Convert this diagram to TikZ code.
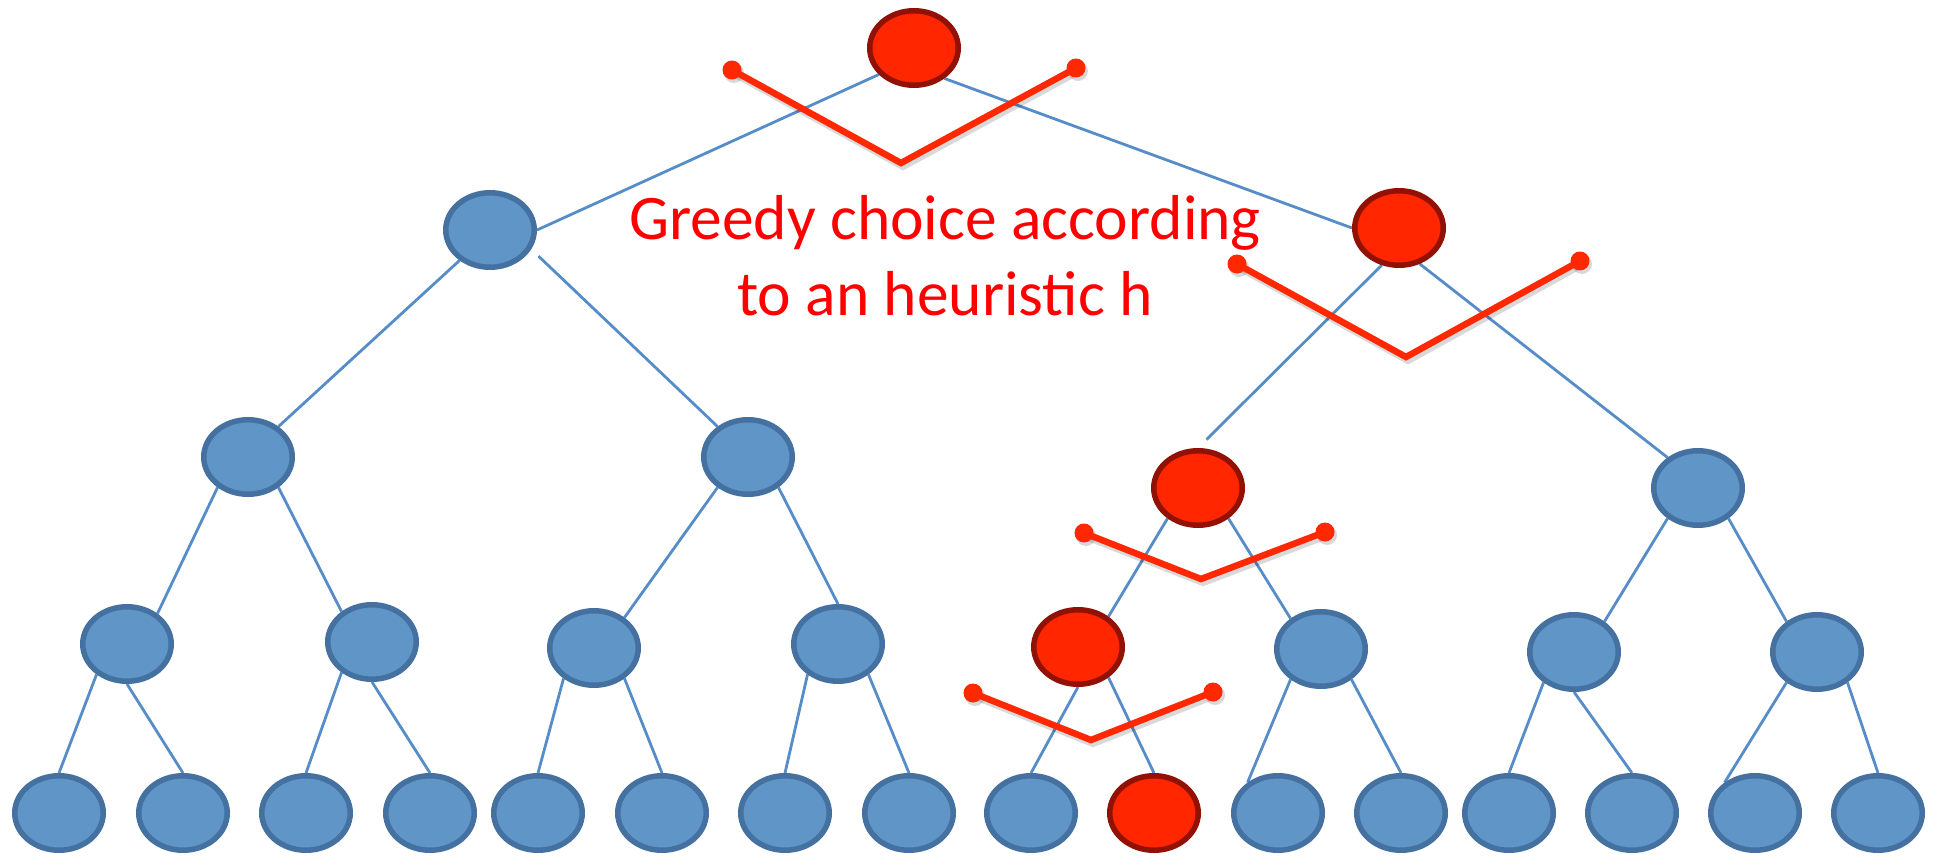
\documentclass[tikz,border=0pt]{standalone}
\usepackage{fontspec}
\setmainfont{Carlito}
\usetikzlibrary{shapes.geometric,backgrounds}
\definecolor{bfill}{RGB}{96,149,200}
\definecolor{bborder}{RGB}{68,113,160}
\definecolor{bedge}{RGB}{86,140,200}
\definecolor{rfill}{RGB}{255,38,0}
\definecolor{rborder}{RGB}{145,18,4}
\definecolor{vred}{RGB}{255,40,0}
\definecolor{tred}{RGB}{255,0,0}
\tikzset{
  bnode/.style={ellipse,draw=bborder,fill=bfill,line width=5.5pt,inner sep=0pt,minimum width=88.5pt,minimum height=74.5pt},
  rnode/.style={bnode,draw=rborder,fill=rfill},
  tedge/.style={draw=bedge,line width=2.8pt},
  vline/.style={draw=vred,line width=6.5pt,line join=miter},
  vshadow/.style={draw=black,opacity=0.15,line width=8pt,line join=miter},
  vdot/.style={fill=vred},
  lbl/.style={text=tred,font=\fontsize{63.5}{76}\selectfont,inner sep=0pt,anchor=base}
}
\begin{document}
\begin{tikzpicture}[x=1pt,y=-1pt]
\useasboundingbox (0,0) rectangle (1936,856);
% nodes
\node[rnode] (R) at (914,48) {};
\node[bnode] (A) at (490,230) {};
\node[rnode] (B) at (1399,228) {};
\node[bnode] (C) at (248,457) {};
\node[bnode] (D) at (748,457) {};
\node[rnode] (E) at (1198,488) {};
\node[bnode] (F) at (1698,488) {};
\node[bnode] (G1) at (127,644) {};
\node[bnode] (G2) at (372,642) {};
\node[bnode] (G3) at (594,648) {};
\node[bnode] (G4) at (838,644) {};
\node[rnode] (G5) at (1078,647) {};
\node[bnode] (G6) at (1321,649) {};
\node[bnode] (G7) at (1574,652) {};
\node[bnode] (G8) at (1817,652) {};
\foreach \i/\x in {1/59,2/183,3/306,4/430,5/538,6/662,7/785,8/909,9/1031,11/1278,12/1401,13/1509,14/1632,15/1755,16/1878}
  \node[bnode] (L\i) at (\x,813) {};
\node[rnode] (L10) at (1154,813) {};
% edges
\begin{scope}[on background layer]
\draw[tedge] (R.-143) -- (A.east);
\draw[tedge] (R.-45) -- (B.west);
\draw[tedge] (A.-135) -- (C.45);
\draw[tedge,shorten <=10pt] (A.-25) -- (D.135);
\draw[tedge,shorten >=12pt] (B.-115) -- (E.north);
\draw[tedge] (B.-60) -- (F.135);
\draw[tedge] (C.-135) -- (G1.45);
\draw[tedge] (C.-45) -- (G2.135);
\draw[tedge] (D.-135) -- (G3.45);
\draw[tedge] (D.-45) -- (G4.north);
\draw[tedge] (E.-135) -- (G5.45);
\draw[tedge] (E.-45) -- (G6.135);
\draw[tedge] (F.-135) -- (G7.45);
\draw[tedge] (F.-45) -- (G8.135);
\draw[tedge] (G1.-135) -- (L1.north);
\draw[tedge] (G1.south) -- (L2.north);
\draw[tedge] (G2.-135) -- (L3.north);
\draw[tedge] (G2.south) -- (L4.north);
\draw[tedge] (G3.-135) -- (L5.north);
\draw[tedge] (G3.-45) -- (L6.north);
\draw[tedge] (G4.-135) -- (L7.north);
\draw[tedge] (G4.-45) -- (L8.north);
\draw[tedge] (G5.south) -- (L9.north);
\draw[tedge] (G5.-45) -- (L10.north);
\draw[tedge] (G6.-135) -- (L11.135);
\draw[tedge] (G6.-45) -- (L12.north);
\draw[tedge] (G7.-135) -- (L13.north);
\draw[tedge] (G7.south) -- (L14.north);
\draw[tedge] (G8.-135) -- (L15.135);
\draw[tedge] (G8.-45) -- (L16.north);
\end{scope}
% label
\node[lbl] (t1) at (945,239) {Greedy choice according};
\node[lbl] (t2) at (945,315) {to an heuristic h};
% V selections
\foreach \n/\ax/\ay/\bx/\by/\cx/\cy in {0/732/70/901/163/1076/68, 1/1237/264/1406/357/1580/261, 2/1084/533/1201/579/1325/532, 3/973/693/1091/740/1213/692}{
  \coordinate (V\n a) at (\ax,\ay);
  \coordinate (V\n b) at (\bx,\by);
  \coordinate (V\n c) at (\cx,\cy);
  \draw[vshadow] ([shift={(2,3)}]V\n a) -- ([shift={(2,3)}]V\n b) -- ([shift={(2,3)}]V\n c);
  \fill[black,opacity=0.15] ([shift={(2,3)}]V\n a) circle (10);
  \fill[black,opacity=0.15] ([shift={(2,3)}]V\n c) circle (10);
  \draw[vline] (V\n a) -- (V\n b) -- (V\n c);
  \fill[vdot] (V\n a) circle (9.5);
  \fill[vdot] (V\n c) circle (9.5);
}
\end{tikzpicture}
\end{document}
